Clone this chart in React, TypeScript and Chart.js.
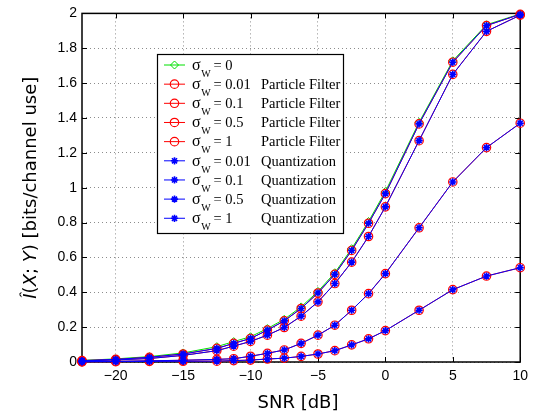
import React, { useEffect, useRef } from 'react';
import { Chart, registerables } from 'chart.js';
import { drawPoint } from 'chart.js/helpers';

Chart.register(...registerables);

// ---- data ----
const snr = [-22.5, -20, -17.5, -15, -12.5, -11.25, -10, -8.75, -7.5, -6.25, -5, -3.75, -2.5, -1.25, 0, 2.5, 5, 7.5, 10];
const sigma0 = [0.009, 0.018, 0.031, 0.052, 0.088, 0.117, 0.145, 0.192, 0.245, 0.316, 0.405, 0.512, 0.65, 0.806, 0.978, 1.375, 1.728, 1.935, 1.997];
const sigma001 = [0.008, 0.015, 0.027, 0.046, 0.078, 0.107, 0.135, 0.183, 0.236, 0.307, 0.396, 0.503, 0.64, 0.796, 0.966, 1.366, 1.72, 1.93, 1.995];
const sigma01 = [0.006, 0.012, 0.02, 0.038, 0.065, 0.091, 0.118, 0.154, 0.198, 0.263, 0.345, 0.45, 0.573, 0.72, 0.89, 1.27, 1.65, 1.897, 1.99];
const sigma05 = [0.002, 0.004, 0.007, 0.01, 0.015, 0.019, 0.033, 0.05, 0.069, 0.107, 0.154, 0.211, 0.297, 0.392, 0.507, 0.77, 1.033, 1.23, 1.37];
const sigma1 = [0.001, 0.002, 0.003, 0.004, 0.005, 0.008, 0.011, 0.017, 0.022, 0.032, 0.046, 0.065, 0.098, 0.133, 0.18, 0.297, 0.415, 0.493, 0.541];

const xTicks = [-20, -15, -10, -5, 0, 5, 10];
const yTicks = [0, 0.2, 0.4, 0.6, 0.8, 1, 1.2, 1.4, 1.6, 1.8, 2];

const legendSigma = ['0', '0.01', '0.1', '0.5', '1', '0.01', '0.1', '0.5', '1'];
const legendMethod = ['', 'Particle Filter', 'Particle Filter', 'Particle Filter', 'Particle Filter', 'Quantization', 'Quantization', 'Quantization', 'Quantization'];

const xTitle = 'SNR [dB]';
const yTitleParts: [string, boolean][] = [['Î', true], ['(', false], ['X', true], ['; ', false], ['Y', true], [') [bits/channel use]', false]];

const seriesValues = [sigma0, sigma001, sigma01, sigma05, sigma1, sigma001, sigma01, sigma05, sigma1];

const GREEN = '#00e000';
const RED = '#ff0000';
const BLUE = '#0000ff';

function makeDataset(i: number) {
  const vals = seriesValues[i];
  const data = snr.map((x, k) => ({ x, y: vals[k] }));
  if (i === 0) {
    return { data, borderColor: GREEN, backgroundColor: 'rgba(0,0,0,0)', pointStyle: 'rectRot', pointRadius: 4, pointBorderWidth: 1, pointBorderColor: GREEN, pointBackgroundColor: 'rgba(0,0,0,0)', borderWidth: 1, order: 2, clip: false };
  }
  if (i <= 4) {
    return { data, borderColor: RED, backgroundColor: 'rgba(0,0,0,0)', pointStyle: 'circle', pointRadius: 4.2, pointBorderWidth: 1.2, pointBorderColor: RED, pointBackgroundColor: 'rgba(0,0,0,0)', borderWidth: 1, order: 1, clip: false };
  }
  return { data, borderColor: BLUE, backgroundColor: 'rgba(0,0,0,0)', pointStyle: 'star', pointRadius: 3.6, pointBorderWidth: 1.6, pointBorderColor: BLUE, pointBackgroundColor: BLUE, borderWidth: 1, order: 0, clip: false };
}

const framePlugin = {
  id: 'frame',
  beforeDatasetsDraw(chart: any) {
    const { ctx, chartArea: a, scales } = chart;
    ctx.save();
    ctx.strokeStyle = '#000';
    ctx.lineWidth = 1;
    ctx.beginPath();
    for (const v of xTicks) {
      const px = Math.round(scales.x.getPixelForValue(v)) + 0.5;
      ctx.moveTo(px, a.bottom); ctx.lineTo(px, a.bottom - 5);
      ctx.moveTo(px, a.top); ctx.lineTo(px, a.top + 5);
    }
    for (const v of yTicks) {
      const py = Math.round(scales.y.getPixelForValue(v)) + 0.5;
      ctx.moveTo(a.left, py); ctx.lineTo(a.left + 5, py);
      ctx.moveTo(a.right, py); ctx.lineTo(a.right - 5, py);
    }
    ctx.stroke();
    ctx.lineWidth = 1.5;
    ctx.strokeRect(a.left, a.top, a.right - a.left, a.bottom - a.top);
    ctx.restore();
  },
  afterDraw(chart: any) {
    const { ctx, chartArea: a } = chart;
    ctx.save();
    // axis titles
    ctx.fillStyle = '#000';
    ctx.font = '18px "DejaVu Sans"';
    ctx.textAlign = 'center';
    ctx.textBaseline = 'alphabetic';
    ctx.fillText(xTitle, 298, 408);

    ctx.save();
    const cy = (a.top + a.bottom) / 2;
    ctx.translate(36, cy);
    ctx.rotate(-Math.PI / 2);
    ctx.textAlign = 'left';
    let total = 0;
    for (const [t, it] of yTitleParts) {
      ctx.font = (it ? 'italic ' : '') + '18px "DejaVu Sans"';
      total += ctx.measureText(t).width;
    }
    let xx = -total / 2;
    for (const [t, it] of yTitleParts) {
      ctx.font = (it ? 'italic ' : '') + '18px "DejaVu Sans"';
      ctx.fillText(t, xx, 0);
      xx += ctx.measureText(t).width;
    }
    ctx.restore();

    // legend
    const lx0 = 157, ly0 = 54, lx1 = 343, ly1 = 233;
    ctx.fillStyle = '#fff';
    ctx.fillRect(lx0, ly0, lx1 - lx0, ly1 - ly0);
    ctx.strokeStyle = '#000';
    ctx.lineWidth = 1.2;
    ctx.strokeRect(lx0 + 0.5, ly0 + 0.5, lx1 - lx0, ly1 - ly0);
    chart.data.datasets.forEach((ds: any, i: number) => {
      const rowY = 65 + 19.16 * i;
      ctx.strokeStyle = ds.borderColor;
      ctx.lineWidth = 1;
      ctx.beginPath();
      ctx.moveTo(164, rowY);
      ctx.lineTo(185, rowY);
      ctx.stroke();
      ctx.fillStyle = ds.pointBackgroundColor;
      ctx.strokeStyle = ds.pointBorderColor;
      ctx.lineWidth = ds.pointBorderWidth;
      drawPoint(ctx, { pointStyle: ds.pointStyle, radius: ds.pointRadius, borderWidth: ds.pointBorderWidth, rotation: 0 } as any, 174.5, rowY);
      ctx.fillStyle = '#000';
      ctx.textAlign = 'left';
      ctx.font = '16px "Liberation Serif"';
      ctx.fillText('σ', 192, rowY + 4.7);
      const w = ctx.measureText('σ').width;
      ctx.font = '10px "Liberation Serif"';
      ctx.fillText('W', 192 + w + 0.5, rowY + 11.8);
      ctx.font = '14.5px "Liberation Serif"';
      ctx.fillText('= ' + legendSigma[i], 213.5, rowY + 4.7);
      if (legendMethod[i]) ctx.fillText(legendMethod[i], 261, rowY + 4.7);
    });
    ctx.restore();
  },
};

export default function App() {
  const ref = useRef<HTMLCanvasElement | null>(null);
  useEffect(() => {
    if (!ref.current) return;
    const chart = new Chart(ref.current, {
      type: 'line',
      data: { datasets: seriesValues.map((_, i) => makeDataset(i)) as any },
      options: {
        responsive: false,
        animation: false,
        parsing: true,
        layout: { padding: { top: 12, right: 9, left: 0, bottom: 0 } },
        plugins: { legend: { display: false }, tooltip: { enabled: false } },
        scales: {
          x: {
            type: 'linear',
            min: -22.5,
            max: 10,
            afterBuildTicks: (s: any) => { s.ticks = xTicks.map((v) => ({ value: v })); },
            afterFit: (s: any) => { s.height = 51; },
            grid: { color: 'rgba(0,0,0,0.45)', lineWidth: 1, drawTicks: false },
            border: { display: false, dash: [1, 3] },
            ticks: {
              autoSkip: false,
              maxRotation: 0,
              padding: 6,
              color: '#000',
              font: { family: 'Liberation Sans', size: 14 },
              callback: (v: any) => String(v).replace('-', '\u2212'),
            },
          },
          y: {
            type: 'linear',
            min: 0,
            max: 2,
            afterBuildTicks: (s: any) => { s.ticks = yTicks.map((v) => ({ value: v })); },
            afterFit: (s: any) => { s.width = 82; },
            grid: { color: 'rgba(0,0,0,0.45)', lineWidth: 1, drawTicks: false },
            border: { display: false, dash: [1, 3] },
            ticks: {
              autoSkip: false,
              padding: 5,
              color: '#000',
              font: { family: 'Liberation Sans', size: 14 },
              callback: (v: any) => String(Number(Number(v).toFixed(1))),
            },
          },
        },
      } as any,
      plugins: [framePlugin],
    });
    return () => chart.destroy();
  }, []);
  return (
    <div style={{ position: 'fixed', left: 0, top: 0, width: 534, height: 413, background: '#fff' }}>
      <canvas ref={ref} width={534} height={413} style={{ width: 534, height: 413 }} />
    </div>
  );
}
